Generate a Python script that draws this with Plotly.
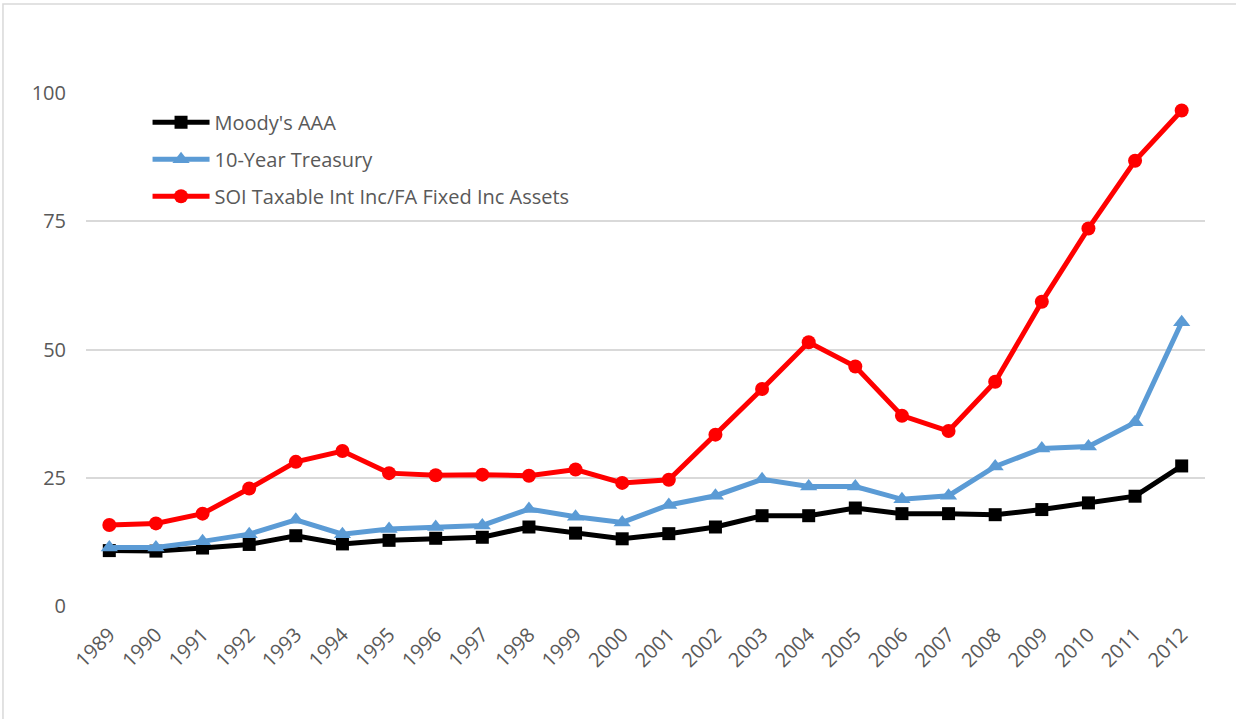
import plotly.graph_objects as go

years = [str(y) for y in range(1989, 2013)]
moodys_aaa = [10.8, 10.7, 11.3, 12.0, 13.7, 12.1, 12.8, 13.2, 13.4, 15.4, 14.2, 13.1,
              14.1, 15.4, 17.6, 17.6, 19.1, 18.0, 18.0, 17.8, 18.8, 20.1, 21.4, 27.3]
treasury_10y = [11.4, 11.4, 12.6, 14.0, 16.8, 14.0, 15.0, 15.4, 15.7, 18.9, 17.4, 16.3,
                19.7, 21.5, 24.7, 23.3, 23.3, 20.8, 21.5, 27.2, 30.7, 31.1, 35.8, 55.3]
soi_ratio = [15.8, 16.1, 18.0, 22.9, 28.1, 30.2, 25.9, 25.5, 25.6, 25.4, 26.6, 24.0,
             24.6, 33.4, 42.3, 51.4, 46.7, 37.1, 34.1, 43.7, 59.3, 73.6, 86.8, 96.6]
y_ticks = [0, 25, 50, 75, 100]

series = [
    ("Moody's AAA", moodys_aaa, "#000000", "square", 13),
    ("10-Year Treasury", treasury_10y, "#5B9BD5", "triangle-up", 15),
    ("SOI Taxable Int Inc/FA Fixed Inc Assets", soi_ratio, "#FF0000", "circle", 14),
]

fig = go.Figure()
for i, (name, vals, color, sym, size) in enumerate(series):
    fig.add_trace(go.Scatter(
        x=years, y=vals, name=name, mode="lines+markers",
        line=dict(color=color, width=5),
        marker=dict(symbol=sym, size=size, color=color),
        legendgroup=f"g{i}",
    ))

font_family = "Open Sans, Liberation Sans, Arial, sans-serif"
fig.update_layout(
    width=1236, height=719,
    margin=dict(l=86, r=31, t=93, b=113),
    paper_bgcolor="white", plot_bgcolor="white",
    font=dict(family=font_family, color="#595959", size=20),
    showlegend=True,
    legend=dict(
        x=0.055, y=0.981, xanchor="left", yanchor="top",
        bgcolor="rgba(0,0,0,0)", font=dict(size=20, color="#595959"),
        tracegroupgap=8, itemwidth=57,
    ),
    xaxis=dict(
        type="category", range=[-0.5, 23.5], showgrid=False, showline=False,
        ticks="", tickangle=-45, tickfont=dict(size=20, color="#595959"),
        zeroline=False, ticklabelstandoff=12,
    ),
    yaxis=dict(
        range=[0, 100], tickvals=y_ticks, showgrid=True, gridcolor="#D9D9D9",
        gridwidth=1.5, zeroline=False, showline=False, ticks="",
        tickfont=dict(size=20, color="#595959"), ticklabelstandoff=19,
    ),
    shapes=[dict(
        type="rect", xref="paper", yref="paper",
        x0=-0.0742, x1=1.031, y0=-0.232, y1=1.1735,
        line=dict(color="#D9D9D9", width=1.5), fillcolor="rgba(0,0,0,0)", layer="below",
    )],
)

fig.write_html("out.html", config={"displayModeBar": False},
               post_script="document.body.style.margin='0';")
